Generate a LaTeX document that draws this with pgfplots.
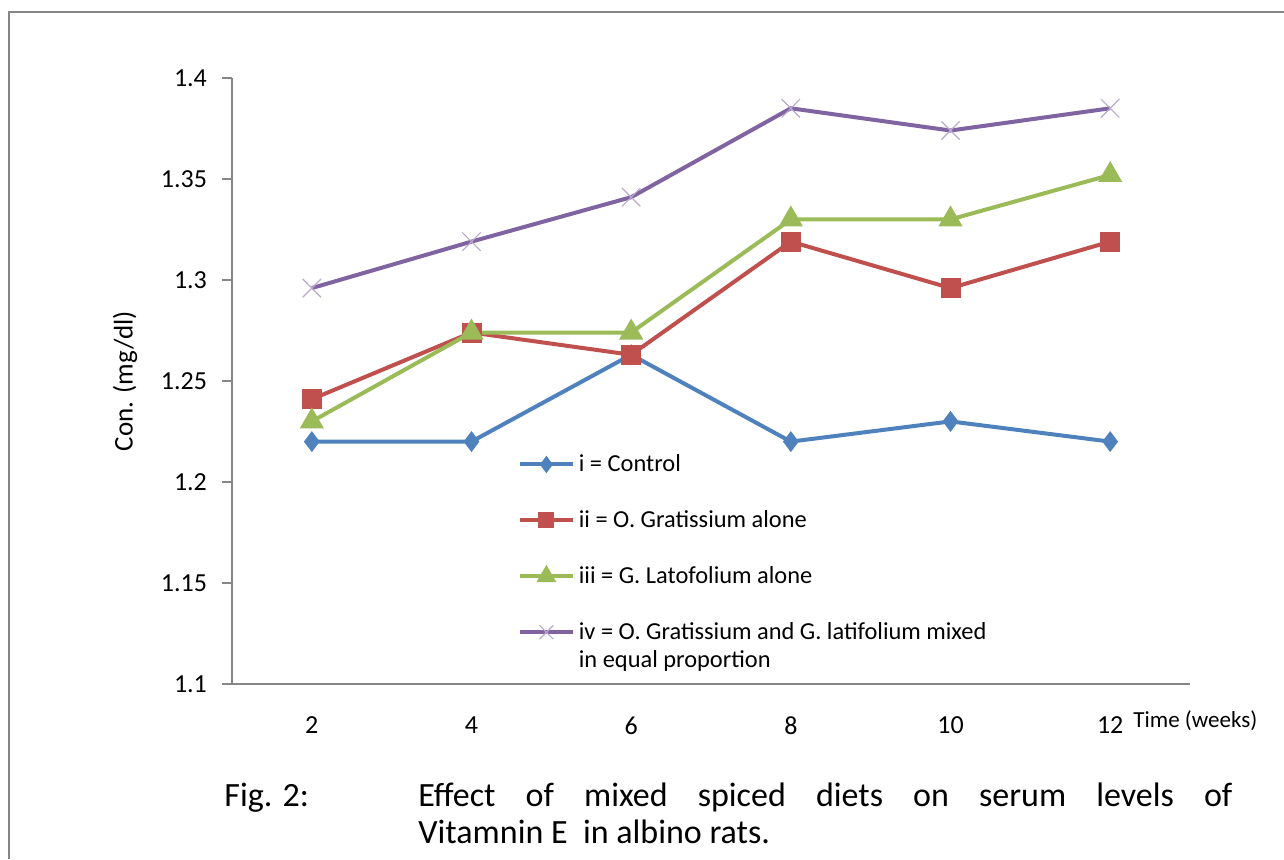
\documentclass[border=0pt]{standalone}
\usepackage{pgfplots}
\pgfplotsset{compat=1.18}
\usepackage{fontspec}
\setmainfont{Carlito}

\definecolor{cBlue}{HTML}{4F81BD}
\definecolor{cRed}{HTML}{C0504D}
\definecolor{cGreen}{HTML}{9BBB59}
\definecolor{cPurple}{HTML}{8064A2}
\definecolor{axgray}{HTML}{868686}

% 1 px of the reference = 0.5pt
\begin{document}
\begin{tikzpicture}
\useasboundingbox (0,0) rectangle (642pt,429.5pt);
\draw[axgray, line width=1pt] (4.5pt,0) -- (4.5pt,423.5pt) -- (642pt,423.5pt);

\begin{axis}[
    at={(116pt,87.5pt)}, anchor=south west,
    width=479pt, height=303pt, scale only axis,
    xmin=1, xmax=13, ymin=1.1, ymax=1.4,
    axis x line=bottom, axis y line=left,
    axis line style={-, draw=axgray, line width=0.75pt},
    xtick={2,4,6,8,10,12},
    x tick style={draw=none},
    extra x ticks={1,3,5,7,9,11,13},
    extra x tick labels={},
    extra x tick style={tick style={draw=axgray, line width=0.75pt}, major tick length=5pt},
    ytick={1.1,1.15,...,1.41},
    yticklabels={1.1,1.15,1.2,1.25,1.3,1.35,1.4},
    y tick style={draw=axgray, line width=0.75pt},
    tick align=outside, major tick length=5pt,
    ticklabel style={font=\fontsize{13}{15}\selectfont},
    /pgf/number format/assume math mode=true,
    xticklabel style={yshift=-8pt},
    yticklabel style={xshift=-4pt},
    legend style={draw=none, fill=none, at={(0.298,0.386)}, anchor=north west,
        row sep=14pt, inner sep=0pt,
        font=\fontsize{12.2}{14}\selectfont,
        cells={anchor=west, align=left}},
    legend image code/.code={%
        \draw[mark repeat=2,mark phase=2,#1, every mark/.append style={scale=0.75}]
        plot coordinates {(0pt,0pt) (13.25pt,0pt) (26.5pt,0pt)};},
    every axis plot/.append style={line width=2pt},
]
\addplot[cBlue, mark=diamond*, mark size=3.6pt, mark options={solid}]
    coordinates {(2,1.22) (4,1.22) (6,1.263) (8,1.22) (10,1.23) (12,1.22)};
\addlegendentry{i = Control}
\addplot[cRed, mark=square*, mark size=4pt]
    coordinates {(2,1.241) (4,1.274) (6,1.263) (8,1.319) (10,1.296) (12,1.319)};
\addlegendentry{ii = O. Gratissium  alone}
\addplot[cGreen, mark=triangle*, mark size=5pt]
    coordinates {(2,1.23) (4,1.274) (6,1.274) (8,1.33) (10,1.33) (12,1.352)};
\addlegendentry{iii = G. Latofolium alone}
\addplot[cPurple, mark=x, mark size=6.5pt, mark options={draw=cPurple!55, line width=0.6pt}]
    coordinates {(2,1.296) (4,1.319) (6,1.341) (8,1.385) (10,1.374) (12,1.385)};
\addlegendentry{\makebox[0pt][l]{\raisebox{-14pt}[0pt][0pt]{in equal proportion}}iv = O. Gratissium  and G. latifolium mixed}
\end{axis}

\node[rotate=90, font=\fontsize{13.5}{15}\selectfont] at (62.5pt,239pt) {Con. (mg/dl)};
\node[anchor=west, inner sep=0pt, font=\fontsize{11.5}{14}\selectfont] at (566.5pt,69pt) {Time (weeks)};

\node[anchor=base west, inner sep=0pt, font=\fontsize{17}{20}\selectfont] at (112pt,26.5pt) {Fig. 2:};
\node[anchor=base west, inner sep=0pt, font=\fontsize{17}{20}\selectfont] at (209pt,26.5pt)
    {\makebox[407pt][s]{Effect of mixed spiced diets on serum levels of}};
\node[anchor=base west, inner sep=0pt, font=\fontsize{17}{20}\selectfont] at (209pt,8pt)
    {Vitamnin E\ \ in albino rats.};
\end{tikzpicture}
\end{document}
